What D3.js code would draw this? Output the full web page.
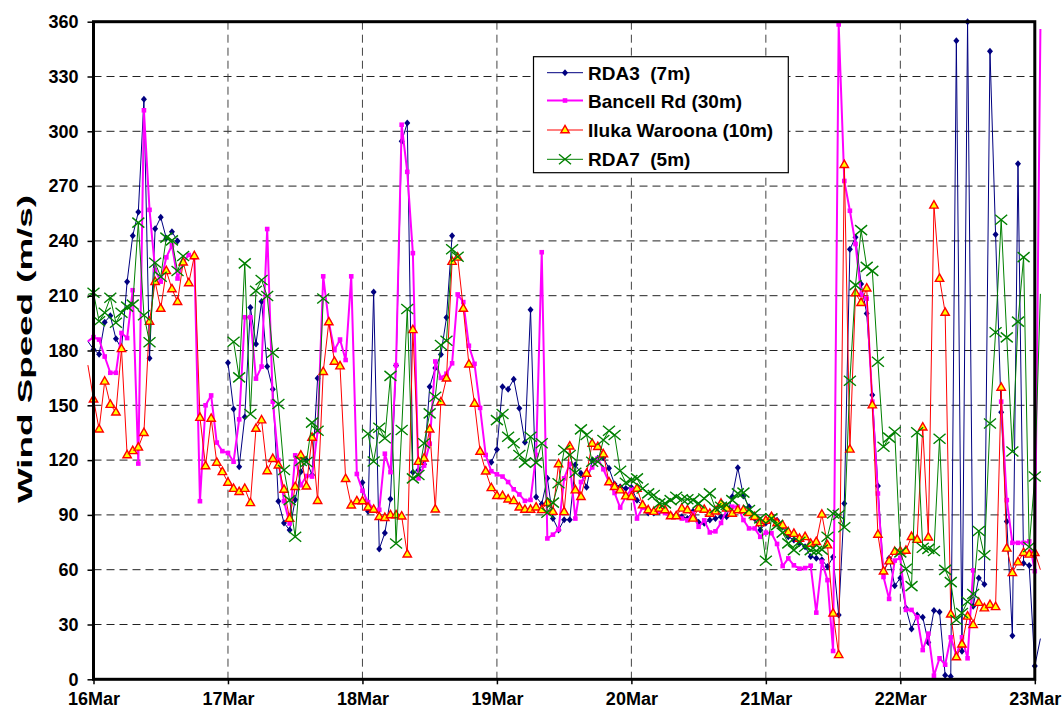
<!DOCTYPE html>
<html>
<head>
<meta charset="utf-8">
<script src="https://cdn.jsdelivr.net/npm/d3@7"></script>
<style>
  body { margin: 0; background: #fff; }
  svg text { font-family: "Liberation Sans", Arial, Helvetica, sans-serif; font-weight: bold; fill: #000; }
</style>
</head>
<body>
<svg id="chart" width="1063" height="718"></svg>
<script>
// Hourly wind readings. First value is 15 Mar 23:00, last is 23 Mar 01:00.
// Each row below holds one day (00:00 .. 23:00); null = no reading.
const startTime = Date.UTC(2009, 2, 15, 23);

const rda3 = [
  185,
  180.6, 178, 195.5, 199, 186.5, 181, 217.6, 242.8, 255.8, 317.6, 175.7, 246.6, 252.9, 241.4, 245, 240, null, null, null, null, null, null, null, null,
  173.3, 148, 116.4, 143.6, 203.6, 183.6, 206.8, 171.3, 158.8, 97.5, 85.6, 81.7, 98.3, 113.6, 120, 111.8, 164.8, null, null, null, null, null, null, null,
  107.8, 92, 212, 71.3, 80.1, 98.7, 171.8, 294.5, 304.5, 113.4, 114.6, 117.7, 160.2, 170.4, 177.8, 198, 242.8, null, null, null, null, null, null, 118.8,
  125.8, 160.2, 158.8, 164.3, 148.4, 129.8, 202.3, 99.8, 96, 110, 88, 81.7, 87.4, 87.4, 117.4, 112.8, 105.2, 119.9, 121, 121.3, 115.5, 106.9, 105.4, 104.5,
  105, 98, 95.4, 91, 91, 92, 92.7, 90, 90, 89, 88, 92, 86, 85.4, 87.2, 88, 89, 89, 100, 115.8, 100.3, 94.5, 88, 81.7,
  85.6, 89.8, 87.1, 83.5, 78, 76.3, 74.4, 72.6, 67.2, 66.3, 65.4, 61.7, 66.9, 35.2, 96.3, 235.4, 242, 216.4, 200.3, 155.6, 105.8, 58.3, 66.3, 51.2,
  55.5, 39.1, 27.6, 35.2, 34, 20.2, 37.6, 36.9, 2.2, 1.5, 349.6, 15.4, 360, 40, 55.5, 52, 343.8, 243.5, 146.2, 86.4, 23.8, 282.2, 63.5, 62.3,
  7.3, 22.3
];

const bancell = [
  185,
  187.3, 186, 176.7, 167.8, 167.8, 189.6, 186.8, 213, 118.1, 311.5, 257, 224, 217.7, 231, 237.6, 219.4, 228.3, 232.3, 231, 97.5, 150, 155.4, 129.6, 124.9,
  123.9, 119.1, 142.3, 198.2, 198.2, 164.6, 171.2, 246.5, 152, 120, 97.5, 85.3, 122.6, 106.2, 111.3, 111, 135.7, 220.6, 195.5, 180.2, 186, 174.8, 220.6, 112.4,
  103.2, 97, 93, 92.8, 123.5, 113.4, 172, 303.6, 277.8, 233.3, 110, 117, 129, 174, 165, 167.3, 173, 210.7, 206.5, 182.6, 172.7, 148.6, 122.8, 113.9,
  112.2, 111, 108, 104, 101.2, 97.7, 98.2, 122.8, 233.8, 77.1, 79.2, 82, 110, 118, 88, 108, 112, 116, 121, 115, 108, 102, 94, 100,
  104, 88, 94, 92, 92, 92, 91, 90, 89, 88, 87, 90.8, 83.5, 87, 80.4, 81, 85.6, 92.7, 94.5, 94.5, 87.2, 82.6, 82.6, 78,
  80.3, 80, 74.1, 62, 66.2, 62.4, 60.6, 60.9, 62.2, 36.5, 64.4, 54.3, 15.5, 358.5, 272.8, 256.5, 238.3, 210.5, 208.4, 152, 101.7, 56, 44, 65,
  66.5, 38, 38, 34, 16, 25, 2, 11.5, 8, 23, 13, 23, 11.5, 59.6, null, null, null, null, 152, 98.1, 74.7, 74.7, 74.7, 75.5,
  59.2, 356
];

const iluka = [
  172,
  153.3, 136.9, 163.1, 150.4, 146.2, 180.9, 122.8, 125.1, 127, 135, 195.9, 217.7, 203, 223.6, 213.7, 206.7, 228.3, 217, 231.8, 143.3, 116.8, 142.8, 118.7, 113.6,
  107.8, 104.4, 102.7, 104.4, 96.6, 137.3, 141.9, 114.1, 120.8, 117.2, 103.9, 88, 105.4, 122.7, 105.7, 132.4, 97.8, 168.4, 195.6, 174, 171.5, 109.8, 95.3, 97.6,
  97.6, 94.2, 93, 89, 88.5, 90, 90, 89.3, 68.5, 191.3, 119.2, 121, 136.9, 93.1, 151.8, 164.8, 228.7, 231, 203, 172.5, 151, 124.7, 113.9, 104.8,
  100.5, 100.5, 98.6, 97.7, 94.2, 93, 93, 94.2, 92.8, 96.7, 91.8, 117.9, 91.7, 127.6, 103.6, 100, 112.7, 129.1, 127.3, 123.3, 108, 105.4, 103.6, 100.3,
  100, 104.5, 95.4, 92.7, 91.8, 93.6, 92.7, 89.4, 89.4, 93.6, 92.7, 88.1, 93.6, 93, 90.8, 92, 96.3, 93.6, 90.8, 92.7, 92.7, 91.2, 89, 85.6,
  87, 89, 85.6, 84.4, 80.7, 79.8, 77.1, 78, 74.4, 75.3, 90.3, 73.5, 36.1, 13.4, 281.7, 125.9, 211.5, 206.2, 214.1, 150.1, 79.3, 59.2, 64.7, 69.9,
  70.1, 70.5, 78.1, 76.5, 138, 77.8, 259.5, 219.4, 200.8, 35.6, 12.2, 19.2, 34.5, 29.8, 42, 39, 40.8, 39.7, 159.8, 71.7, 58.3, 64.2, 69.3, 68.4,
  69.3, 60
];

const rda7 = [
  210.7,
  211.6, 196, 200.7, 208.9, 195.2, 200.7, 204, 205.1, 250, 199.3, 184.5, 228, 220.4, 241.8, 240.3, 223.5, 231.7, null, null, null, null, null, null, null,
  null, 184.8, 165.3, 227.7, 145.2, 212.7, 218.6, 209.8, 178.8, 150.7, 114.6, 98.1, 78, 119.5, 119, 140.5, 136.1, 208.5, null, null, null, null, null, null,
  null, 134.4, 119.2, 137.7, 132, 166.1, 74.3, 136.5, 202.7, 110, 111.8, 129.2, 145.6, 154.7, 183, 185.3, 235.4, 231.3, null, null, null, null, null, null,
  141.9, 145.2, 132.8, 129.2, 122.8, 118.6, 132.8, 118.6, 129.2, 91.2, 96.7, 107.3, 125.5, 122.8, 113.1, 136.8, 133.7, 119.1, 119.1, 131, 136.1, 133.7, 114.2, 107.6,
  109.1, 110, 104.5, 101.8, 100.9, 96.3, 96.3, 98.1, 99.9, 98.6, 98.6, 98.1, 96.3, 99, 101.8, 93.6, 94.5, 95.4, 98.1, 101.8, 102.2, 92.7, 90.8, 88.1,
  64.9, 88.1, 84.4, 80.3, 74.4, 70.7, 75.3, 72.6, 70.7, 70.3, 71, 78, 90.8, 89.9, 83.2, 163.4, 215.8, 245.9, 225.8, 223.6, 173.8, 127.3, 132.3, 135.5,
  69.5, 60.5, 51, 135.2, 72, 71.4, 70.2, 131.7, 59.9, 53.2, 32.5, 36.3, 42.5, 46.7, 81.2, 67.9, 140, 190, 251.6, 187.2, 124.7, 195.8, 231.1, 72.4,
  111, 211
];

const seriesNames = ["RDA3  (7m)", "Bancell Rd (30m)", "Iluka Waroona (10m)", "RDA7  (5m)"];
const yTicks = [0, 30, 60, 90, 120, 150, 180, 210, 240, 270, 300, 330, 360];
const dayTicks = ["2009-03-16", "2009-03-17", "2009-03-18", "2009-03-19", "2009-03-20", "2009-03-21", "2009-03-22", "2009-03-23"];
const yTitle = "Wind Speed (m/s)";

// ---- layout ----
const svg = d3.select("#chart");
const plot = { left: 93.5, right: 1034.8, top: 21.7, bottom: 679.3 };

const days = dayTicks.map(s => new Date(s + "T00:00:00Z"));
const x = d3.scaleUtc().domain([days[0], days[days.length - 1]]).range([plot.left, plot.right]);
const y = d3.scaleLinear().domain([0, 360]).range([plot.bottom, plot.top]);

// ---- grid ----
const grid = svg.append("g");
grid.selectAll("line.h").data(yTicks.filter(v => v > 0 && v < 360)).join("line")
  .attr("x1", plot.left).attr("x2", plot.right)
  .attr("y1", d => y(d)).attr("y2", d => y(d))
  .attr("stroke", "#222").attr("stroke-width", 1).attr("stroke-dasharray", "8,5");
grid.selectAll("line.v").data(days.slice(1, -1)).join("line")
  .attr("x1", d => x(d)).attr("x2", d => x(d))
  .attr("y1", plot.top).attr("y2", plot.bottom)
  .attr("stroke", "#444").attr("stroke-width", 1).attr("stroke-dasharray", "8,5");

// ---- series ----
const markerPaths = {
  diamond: "M0,-3.5L3,0L0,3.5L-3,0Z",
  square: "M-2.3,-2.3h4.6v4.6h-4.6Z",
  triangle: "M0,-4.6L4.2,2.8L-4.2,2.8Z",
  cross: "M-6,-5L6,5M-6,5L6,-5"
};

const series = [
  { name: seriesNames[0], values: rda3, line: "#000080", lw: 1, marker: "diamond", fill: "#000080", stroke: "none", sw: 0 },
  { name: seriesNames[1], values: bancell, line: "#FF00FF", lw: 2, marker: "square", fill: "#FF00FF", stroke: "none", sw: 0 },
  { name: seriesNames[2], values: iluka, line: "#FF0000", lw: 1, marker: "triangle", fill: "#FFFF00", stroke: "#FF0000", sw: 1.4 },
  { name: seriesNames[3], values: rda7, line: "#008000", lw: 1, marker: "cross", fill: "none", stroke: "#008000", sw: 1.4 }
];

const hour = 3600 * 1000;
const pts = vals => vals.map((v, i) => ({ t: new Date(startTime + i * hour), v }));

const line = d3.line()
  .defined(d => d.v !== null)
  .x(d => x(d.t))
  .y(d => y(d.v));

series.forEach(s => {
  const data = pts(s.values);
  const g = svg.append("g");
  g.append("path").datum(data)
    .attr("d", line)
    .attr("fill", "none")
    .attr("stroke", s.line)
    .attr("stroke-width", s.lw)
    .attr("stroke-linejoin", "round");
  g.selectAll("path.m")
    .data(data.filter(d => d.v !== null && d.t >= days[0] && d.t <= days[days.length - 1]))
    .join("path")
    .attr("class", "m")
    .attr("transform", d => `translate(${x(d.t)},${y(d.v)})`)
    .attr("d", markerPaths[s.marker])
    .attr("fill", s.fill)
    .attr("stroke", s.stroke === "none" ? null : s.stroke)
    .attr("stroke-width", s.sw);
});

// ---- frame ----
svg.append("rect")
  .attr("x", plot.left).attr("y", plot.top)
  .attr("width", plot.right - plot.left).attr("height", plot.bottom - plot.top)
  .attr("fill", "none").attr("stroke", "#000").attr("stroke-width", 3);

// ---- axes ----
const yAxis = d3.axisLeft(y).tickValues(yTicks).tickSize(6).tickPadding(9);
const gy = svg.append("g").attr("transform", `translate(${plot.left},0)`).call(yAxis);
gy.select(".domain").remove();
gy.selectAll(".tick line").attr("stroke", "#000").attr("stroke-width", 1.5);
gy.selectAll(".tick text").attr("font-size", 18);

const xAxis = d3.axisBottom(x).tickValues(days).tickFormat(d3.utcFormat("%-d%b")).tickSize(5).tickPadding(8);
const gx = svg.append("g").attr("transform", `translate(0,${plot.bottom})`).call(xAxis);
gx.select(".domain").remove();
gx.selectAll(".tick line").attr("stroke", "#000").attr("stroke-width", 1.5);
gx.selectAll(".tick text").attr("font-size", 18);
svg.selectAll(".tick text").attr("font-family", null).attr("font-weight", "bold");

// axis title
svg.append("text")
  .attr("transform", `translate(32,349) rotate(-90)`)
  .attr("text-anchor", "middle")
  .attr("font-size", 21)
  .attr("textLength", 308)
  .attr("lengthAdjust", "spacingAndGlyphs")
  .text(yTitle);

// ---- legend ----
const lg = svg.append("g");
lg.append("rect")
  .attr("x", 533.5).attr("y", 56.7).attr("width", 254.8).attr("height", 116)
  .attr("fill", "#fff").attr("stroke", "#000").attr("stroke-width", 1.2);
const rowY = [72.7, 100.5, 130, 159.3];
series.forEach((s, i) => {
  const yy = rowY[i];
  lg.append("line").attr("x1", 547).attr("x2", 583).attr("y1", yy).attr("y2", yy)
    .attr("stroke", s.line).attr("stroke-width", s.lw);
  lg.append("path").attr("transform", `translate(565,${yy})`)
    .attr("d", markerPaths[s.marker])
    .attr("fill", s.fill)
    .attr("stroke", s.stroke === "none" ? null : s.stroke)
    .attr("stroke-width", s.sw);
  lg.append("text").attr("x", 588).attr("y", yy + 7)
    .attr("font-size", 19)
    .attr("xml:space", "preserve")
    .style("white-space", "pre")
    .text(s.name);
});
</script>
</body>
</html>
